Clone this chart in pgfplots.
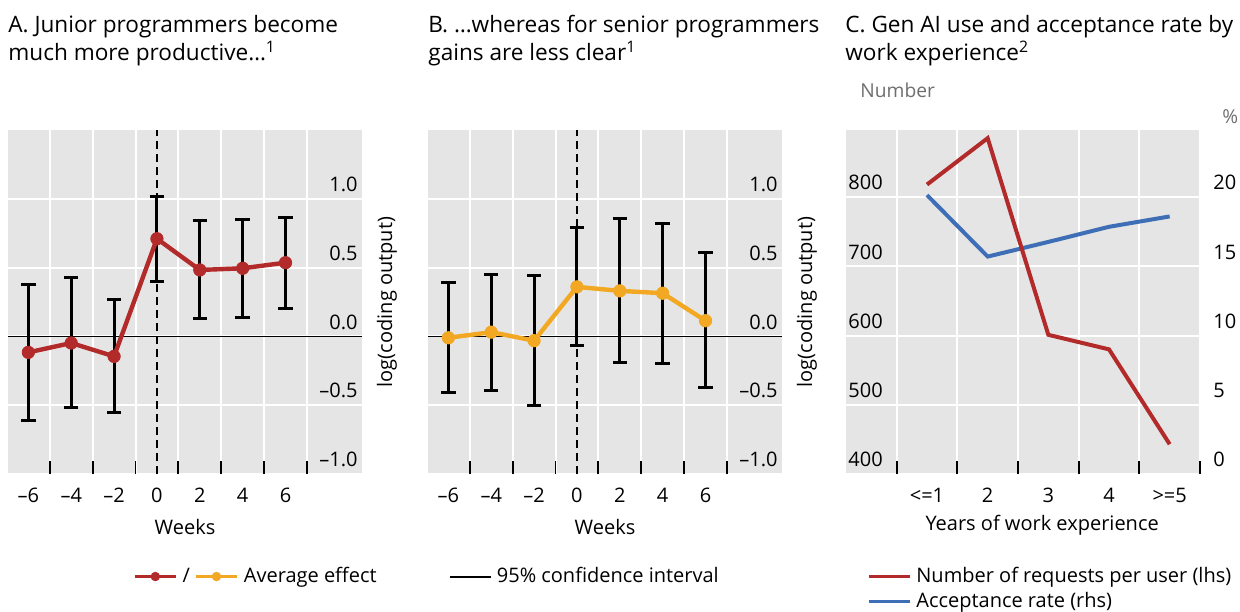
\documentclass[border=0pt]{standalone}
\usepackage{fontspec}
\setmainfont{Open Sans}
\usepackage{pgfplots}
\pgfplotsset{compat=1.18}
\definecolor{bisred}{RGB}{178,43,42}
\definecolor{bisorange}{RGB}{242,168,35}
\definecolor{bisblue}{RGB}{62,111,182}
\definecolor{bggray}{RGB}{229,229,229}
\definecolor{labgray}{RGB}{110,110,110}
\pgfplotsset{
  panel/.style={
    scale only axis, width=177pt, height=172pt,
    axis background/.style={fill=bggray},
    axis line style={draw=none},
    major grid style={white, line width=1pt},
    minor grid style={white, line width=1pt},
    ymajorgrids=true, xmajorgrids=false, xminorgrids=true,
    major tick length=0pt, minor tick length=6.5pt,
    tick align=inside,
    xtick pos=bottom,
    minor tick style={black, line width=0.9pt},
    xticklabel style={yshift=-3.5pt},
    tick label style={font=\fontsize{10}{12}\selectfont},
    label style={font=\fontsize{10}{12}\selectfont},
    /pgf/number format/assume math mode=true,
  },
  weekpanel/.style={
    panel,
    xmin=-6.95, xmax=9.57, ymin=-1, ymax=1.5,
    xtick={-6,-4,...,6}, xticklabels={\textendash6,\textendash4,\textendash2,0,2,4,6},
    minor xtick={-5,-3,...,7},
    ytick={-1,-0.5,0,0.5,1}, yticklabels={\textendash1.0,\textendash0.5,0.0,0.5,1.0},
    ytick pos=right, yticklabel pos=right,
    yticklabel style={anchor=south east, xshift=1.3pt},
    xlabel={Weeks}, ylabel={log(coding output)},
    every axis x label/.style={at={(axis description cs:0.5,-0.154)}, anchor=center},
    every axis y label/.style={at={(axis description cs:1.0706,0.5)}, anchor=center, rotate=90},
  },
  ebars/.style={only marks, mark=none, forget plot,
    error bars/.cd, y dir=both, y explicit,
    error bar style={draw=black, line width=1.5pt},
    error mark options={rotate=90, draw=black, line width=1.5pt, mark size=3.6pt}},
  legimg/.style={legend image code/.code={\draw[##1, mark repeat=2, mark phase=2] plot coordinates {(0pt,0pt) (10pt,0pt) (20.5pt,0pt)};}},
  effmark/.style={line width=2.2pt, mark=*, mark size=3.1pt, mark options={solid, line width=0.4pt}},
}
\begin{document}
\begin{tikzpicture}
\path[use as bounding box] (0,0) rectangle (620pt,-305.5pt);
% titles
\begin{scope}[every node/.style={anchor=base west, inner sep=0pt, font=\fontsize{11.3}{13}\selectfont}]
\node at (4pt,-16pt) {A. Junior programmers become};
\node at (4pt,-30pt) {much more productive…\textsuperscript{1}};
\node at (214pt,-16pt) {B. …whereas for senior programmers};
\node at (214pt,-30pt) {gains are less clear\textsuperscript{1}};
\node at (422.5pt,-16pt) {C. Gen AI use and acceptance rate by};
\node at (422.5pt,-30pt) {work experience\textsuperscript{2}};
\end{scope}
\begin{scope}[every node/.style={anchor=base west, inner sep=0pt, font=\fontsize{9.6}{12}\selectfont, text=labgray}]
\node at (430pt,-48.5pt) {Number};
\node at (611pt,-61.5pt) {\%};
\end{scope}

% Panel A
\begin{axis}[weekpanel, at={(4pt,-237pt)}, anchor=south west,
  legimg, legend columns=3,
  legend style={at={(axis description cs:0.3546,-0.2645)}, anchor=north west, draw=none, fill=none,
    inner sep=0pt, font=\fontsize{10}{12}\selectfont, nodes={inner xsep=2.5pt, inner ysep=1pt}},
]
\addplot[black, line width=0.75pt, forget plot] coordinates {(-6.95,0) (9.57,0)};
\addplot[black, line width=1pt, dash pattern=on 4pt off 2.5pt, forget plot] coordinates {(0,-1) (0,1.5)};
\addplot[ebars] coordinates {
 (-6,-0.116) += (0,0.496) -= (0,0.494)
 (-4,-0.048) += (0,0.478) -= (0,0.472)
 (-2,-0.145) += (0,0.411) -= (0,0.405)
 (0,0.71) += (0,0.31) -= (0,0.31)
 (2,0.483) += (0,0.357) -= (0,0.355)
 (4,0.495) += (0,0.355) -= (0,0.355)
 (6,0.536) += (0,0.326) -= (0,0.331)
};
\addplot[bisred, effmark, forget plot] coordinates {
 (-6,-0.116) (-4,-0.048) (-2,-0.145) (0,0.71) (2,0.483) (4,0.495) (6,0.536)};
\addlegendimage{bisred, line width=1.4pt, mark=*, mark size=2.2pt, mark options={solid, line width=0.3pt}}
\addlegendentry{/}
\addlegendimage{bisorange, line width=1.4pt, mark=*, mark size=2.2pt, mark options={solid, line width=0.3pt}}
\addlegendentry{\makebox[100pt][l]{Average effect}}
\addlegendimage{black, line width=1pt}
\addlegendentry{95\% confidence interval}
\end{axis}

% Panel B
\begin{axis}[weekpanel, at={(214pt,-237pt)}, anchor=south west]
\addplot[black, line width=0.75pt, forget plot] coordinates {(-6.95,0) (9.57,0)};
\addplot[black, line width=1pt, dash pattern=on 4pt off 2.5pt, forget plot] coordinates {(0,-1) (0,1.5)};
\addplot[ebars] coordinates {
 (-6,-0.01) += (0,0.401) -= (0,0.40)
 (-4,0.031) += (0,0.421) -= (0,0.425)
 (-2,-0.031) += (0,0.475) -= (0,0.471)
 (0,0.36) += (0,0.432) -= (0,0.428)
 (2,0.331) += (0,0.524) -= (0,0.517)
 (4,0.314) += (0,0.507) -= (0,0.514)
 (6,0.114) += (0,0.497) -= (0,0.488)
};
\addplot[bisorange, effmark, forget plot] coordinates {
 (-6,-0.01) (-4,0.031) (-2,-0.031) (0,0.36) (2,0.331) (4,0.314) (6,0.114)};
\end{axis}

% Panel C, right scale (blue)
\begin{axis}[panel, at={(423pt,-237pt)}, anchor=south west,
  xmin=-0.335, xmax=5.5, ymin=0, ymax=24.84,
  xtick={1,2,3,4,5}, xticklabels={<=1,2,3,4,>=5},
  minor xtick={0.5,1.5,2.5,3.5,4.5,5.5},
  ytick={0,5,10,15,20}, yticklabels={0,5,10,15,20},
  ytick pos=right, yticklabel pos=right,
  yticklabel style={anchor=south west, xshift=3.2pt},
  xlabel={Years of work experience},
  every axis x label/.style={at={(axis description cs:0.554,-0.148)}, anchor=center},
]
\addplot[bisblue, line width=2pt, forget plot] coordinates {(1,20.14) (2,15.7) (3,16.76) (4,17.85) (5,18.6)};
\end{axis}
% Panel C, left scale (red)
\begin{axis}[at={(423pt,-237pt)}, anchor=south west, scale only axis, width=177pt, height=172pt,
  xmin=-0.335, xmax=5.5, ymin=400, ymax=896.8,
  axis line style={draw=none}, xtick=\empty,
  ytick={400,500,600,700,800}, yticklabels={400,500,600,700,800},
  ytick pos=left, yticklabel pos=left, major tick length=0pt,
  yticklabel style={anchor=south west, xshift=-2.3pt},
  tick label style={font=\fontsize{10}{12}\selectfont},
  /pgf/number format/assume math mode=true,
  legimg, legend columns=1,
  legend style={at={(axis description cs:0.0593,-0.2645)}, anchor=north west, draw=none, fill=none,
    inner sep=0pt, font=\fontsize{10}{12}\selectfont, nodes={inner xsep=2.5pt, inner ysep=1pt}, row sep=1.5pt},
  legend cell align=left,
]
\addplot[bisred, line width=2pt, forget plot] coordinates {(1,818) (2,885) (3,601) (4,580) (5,443)};
\addlegendimage{bisred, line width=1.5pt}
\addlegendentry{Number of requests per user (lhs)}
\addlegendimage{bisblue, line width=1.5pt}
\addlegendentry{Acceptance rate (rhs)}
\end{axis}
\end{tikzpicture}
\end{document}
